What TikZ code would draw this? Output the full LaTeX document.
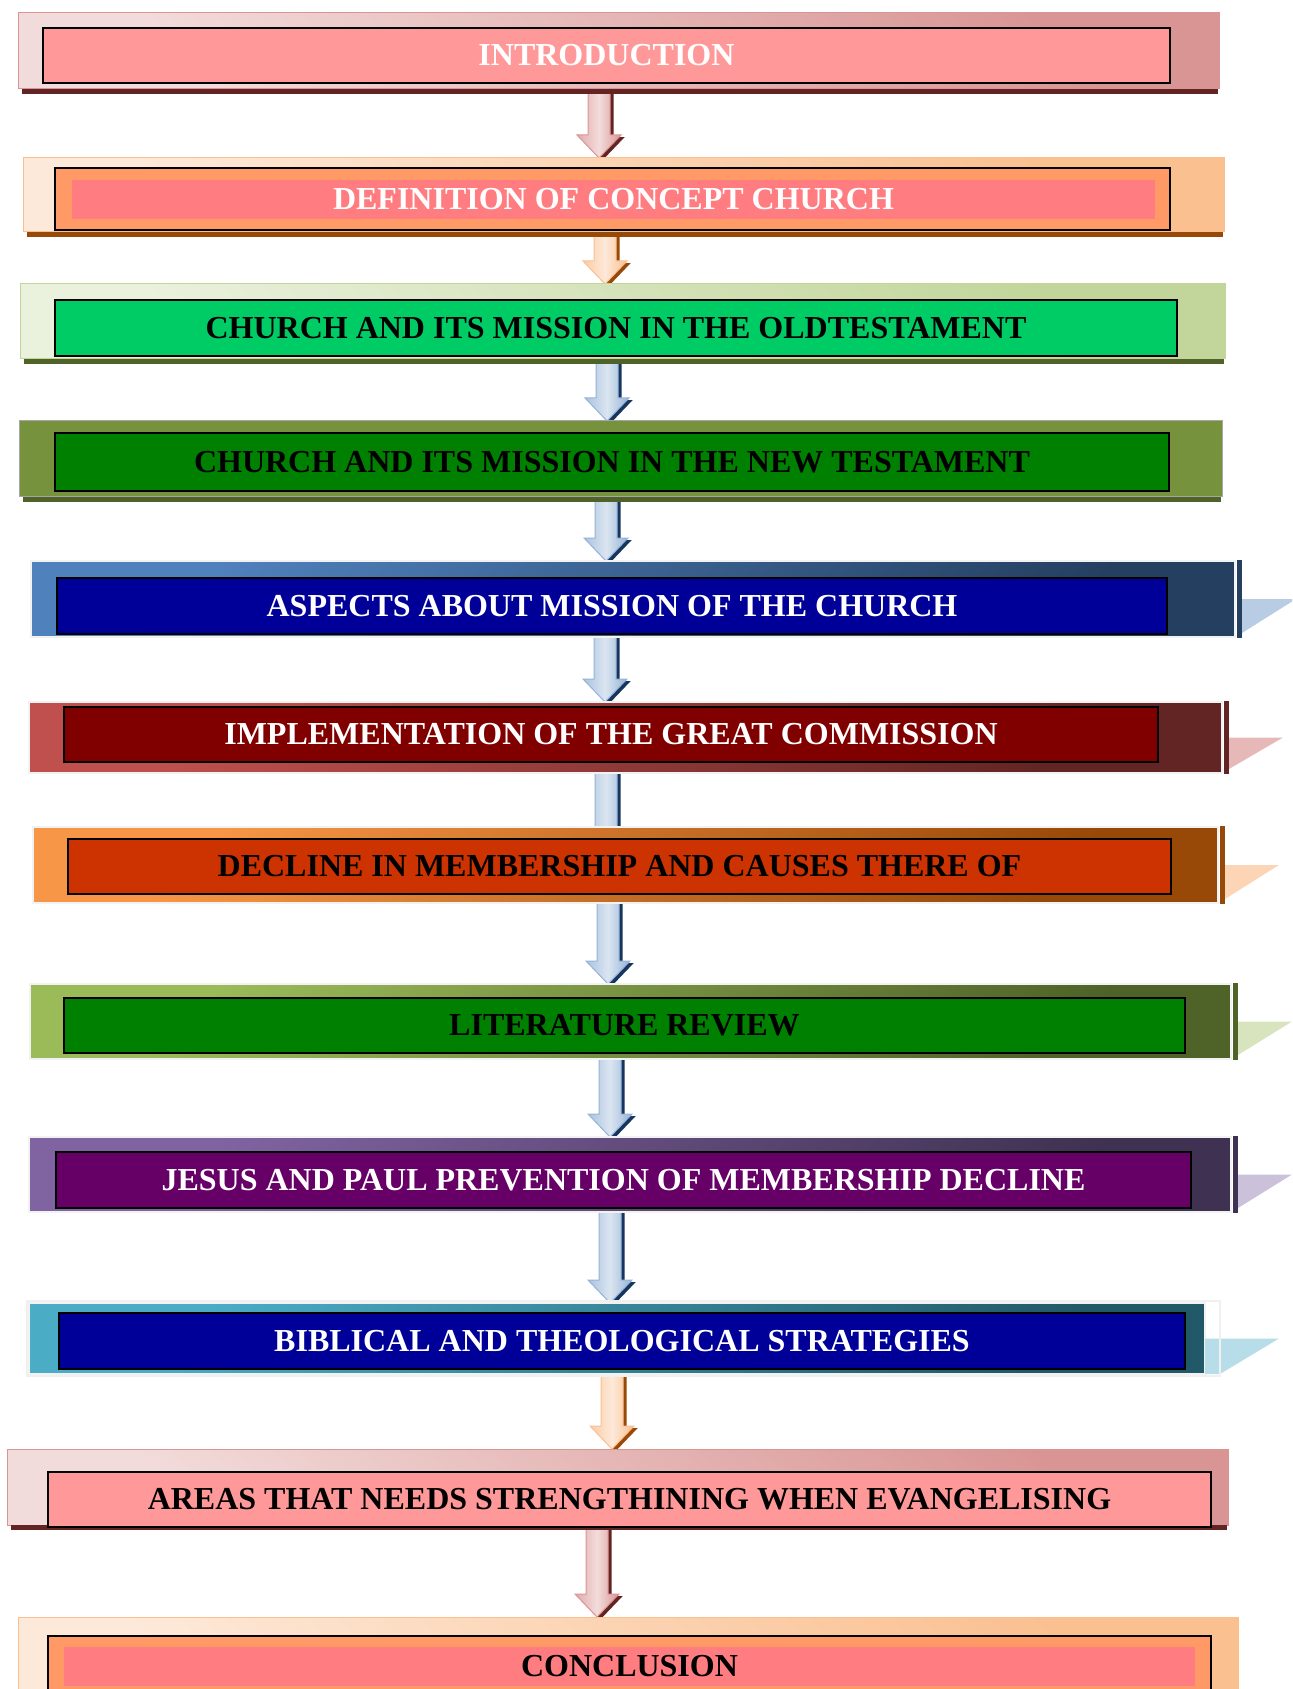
\documentclass[tikz,border=0pt]{standalone}
\usepackage{fontspec}
\setmainfont{Liberation Serif}
\usetikzlibrary{calc}
\pgfdeclarelayer{back}
\pgfsetlayers{back,main}

\definecolor{pinkdark}{HTML}{D99594}
\definecolor{pinklight}{HTML}{F2DCDB}
\definecolor{pinkfill}{HTML}{FF9999}
\definecolor{maroon}{HTML}{632423}
\definecolor{peach}{HTML}{FDE9D9}
\definecolor{apricot}{HTML}{FAC090}
\definecolor{orangefill}{HTML}{FF9966}
\definecolor{salmon}{HTML}{FF7C80}
\definecolor{brownish}{HTML}{984807}
\definecolor{mint}{HTML}{EAF1DD}
\definecolor{sage}{HTML}{C2D69B}
\definecolor{brightgreen}{HTML}{00CC66}
\definecolor{olivedark}{HTML}{4F6228}
\definecolor{olivemid}{HTML}{76923C}
\definecolor{darkgreen}{HTML}{008000}
\definecolor{blueA}{HTML}{4F81BD}
\definecolor{blueB}{HTML}{243F60}
\definecolor{navy}{HTML}{000099}
\definecolor{blueflag}{HTML}{B8CCE4}
\definecolor{redA}{HTML}{C0504D}
\definecolor{redB}{HTML}{632523}
\definecolor{darkred}{HTML}{800000}
\definecolor{redflag}{HTML}{E6B9B8}
\definecolor{orangeA}{HTML}{F79646}
\definecolor{orangeB}{HTML}{984807}
\definecolor{rust}{HTML}{CC3300}
\definecolor{orangeflag}{HTML}{FBD5B5}
\definecolor{greenA}{HTML}{9BBB59}
\definecolor{greenB}{HTML}{4F6228}
\definecolor{greenflag}{HTML}{D7E4BD}
\definecolor{purpleA}{HTML}{8064A2}
\definecolor{purpleB}{HTML}{3F3151}
\definecolor{plum}{HTML}{660066}
\definecolor{purpleflag}{HTML}{CCC1DA}
\definecolor{tealA}{HTML}{4BACC6}
\definecolor{tealB}{HTML}{215968}
\definecolor{tealflag}{HTML}{B7DDE8}
\definecolor{blueedge}{HTML}{95B3D7}
\definecolor{bluelight}{HTML}{DBE5F1}
\definecolor{blueshadow}{HTML}{17365D}

\tikzset{
  band/.style = {anchor=north west, inner sep=0pt, outer sep=0pt},
  softband/.style 2 args = {band, draw=#2, line width=0.5pt, left color=#1, right color=#2, shading angle=135},
  deepband/.style 2 args = {band, draw=gray!10, line width=1pt, left color=#1, right color=#2, shading angle=45},
  title/.style = {draw=black, line width=1pt, anchor=north west, inner sep=0pt, outer sep=0pt,
                  font=\bfseries\fontsize{16pt}{18pt}\selectfont}
}

\begin{document}
\begin{tikzpicture}[
    x=0.5pt, y=-0.5pt,
    arrowblue/.style={draw=blueedge, line width=0.5pt, left color=blueedge!80, right color=blueedge, middle color=bluelight},
    shadowblue/.style={fill=blueshadow},
    arrowpink/.style={draw=pinkdark, line width=0.5pt, left color=pinkdark!80, right color=pinkdark, middle color=pinklight},
    shadowpink/.style={fill=maroon},
    arroworange/.style={draw=apricot, line width=0.5pt, left color=apricot!80, right color=apricot, middle color=peach},
    shadoworange/.style={fill=brownish}
  ]
    \useasboundingbox (0,0) rectangle (1292,1689);
    \clip (0,0) rectangle (1292,1689);

    % outer bands
    \node[softband={pinklight}{pinkdark}, minimum width=600.5pt, minimum height=38pt] (introbox) at (18,13) {};
    \node[softband={peach}{apricot}, minimum width=600.5pt, minimum height=37pt] (defnbox) at (23,158) {};
    \node[softband={mint}{sage}, minimum width=602.5pt, minimum height=37.5pt] (oldbox) at (20,284) {};
    \node[band, fill=olivemid, draw=gray!70, line width=0.5pt, minimum width=601.5pt, minimum height=38pt] (newbox) at (19,421) {};
    \node[deepband={blueA}{blueB}, minimum width=602pt, minimum height=38pt] (aspectsbox) at (31,561) {};
    \node[deepband={redA}{redB}, minimum width=596.5pt, minimum height=35.5pt] (implbox) at (29,702) {};
    \node[deepband={orangeA}{orangeB}, minimum width=592.5pt, minimum height=38pt] (declinebox) at (33,827) {};
    \node[deepband={greenA}{greenB}, minimum width=600.5pt, minimum height=37.5pt] (litbox) at (30,984) {};
    \node[deepband={purpleA}{purpleB}, minimum width=601pt, minimum height=37.5pt] (jesusbox) at (29,1137) {};
    \node[deepband={tealA}{tealB}, minimum width=588pt, minimum height=35.5pt] (biblicalbox) at (29,1303) {};
    \node[softband={pinklight}{pinkdark}, minimum width=610.5pt, minimum height=38pt] (areasbox) at (7,1449) {};
    \node[softband={peach}{apricot}, minimum width=610pt, minimum height=45pt] (conclbox) at (18,1617) {};

    % shadow strips under the light bands
    \foreach \b/\c in {introbox/maroon, defnbox/brownish, oldbox/olivedark, newbox/olivedark, areasbox/maroon}
      \fill[\c] ([xshift=2pt]\b.south west) rectangle ([xshift=-0.5pt,yshift=-2.5pt]\b.south east);

    % bars and flags on the right
    \foreach \b/\c/\f in {aspectsbox/blueB/blueflag, implbox/redB/redflag, declinebox/orangeB/orangeflag,
                          litbox/greenB/greenflag, jesusbox/purpleB/purpleflag} {
      \fill[\f] ([xshift=3.5pt]\b.east) -- ++(27pt,0pt) -- ([xshift=3.5pt,yshift=2pt]\b.south east) -- cycle;
      \fill[\c] ([xshift=1pt,yshift=0.5pt]\b.north east) rectangle ([xshift=3.5pt,yshift=-0.5pt]\b.south east);
    }
    \fill[tealflag] (biblicalbox.east) -- ++(37pt,0pt) -- ([xshift=7.5pt]biblicalbox.south east) -- (biblicalbox.south east) -- cycle;
    \draw[gray!12, line width=1pt] ([xshift=-1pt,yshift=1pt]biblicalbox.north west) rectangle ([xshift=7.5pt,yshift=-1pt]biblicalbox.south east);

    % titles
    \node[title, fill=pinkfill, text=white, minimum width=563.5pt, minimum height=27.5pt] (intro) at (43,28) {INTRODUCTION};
    \node[title, fill=orangefill, minimum width=557.5pt, minimum height=31pt] (defnframe) at (55,168) {};
    \node[title, draw=none, fill=salmon, text=white, minimum width=541.5pt, minimum height=19.5pt] (defn) at (72,180) {DEFINITION OF CONCEPT CHURCH};
    \node[title, fill=brightgreen, minimum width=561pt, minimum height=28pt] (old) at (55,300) {CHURCH AND ITS MISSION IN THE OLDTESTAMENT};
    \node[title, fill=darkgreen, minimum width=557pt, minimum height=29pt] (new) at (55,433) {CHURCH AND ITS MISSION IN THE NEW TESTAMENT};
    \node[title, fill=navy, text=white, minimum width=555pt, minimum height=28pt] (aspects) at (57,578) {ASPECTS ABOUT MISSION OF THE CHURCH};
    \node[title, fill=darkred, text=white, minimum width=547pt, minimum height=27.5pt] (impl) at (64,707) {IMPLEMENTATION OF THE GREAT COMMISSION};
    \node[title, fill=rust, minimum width=551.5pt, minimum height=27.5pt] (decline) at (68,839) {DECLINE IN MEMBERSHIP AND CAUSES THERE OF};
    \node[title, fill=darkgreen, minimum width=560.5pt, minimum height=27.5pt] (lit) at (64,998) {LITERATURE REVIEW};
    \node[title, fill=plum, text=white, minimum width=567.5pt, minimum height=28pt] (jesus) at (56,1152) {JESUS AND PAUL PREVENTION OF MEMBERSHIP DECLINE};
    \node[title, fill=navy, text=white, minimum width=563pt, minimum height=28pt] (biblical) at (59,1313) {BIBLICAL AND THEOLOGICAL STRATEGIES};
    \node[title, fill=pinkfill, minimum width=581.5pt, minimum height=27.5pt] (areas) at (48,1472) {AREAS THAT NEEDS STRENGTHINING WHEN EVANGELISING};
    \node[title, fill=orangefill, minimum width=581.5pt, minimum height=31pt] (conclframe) at (48,1636) {};
    \node[title, draw=none, fill=salmon, minimum width=565.5pt, minimum height=19.5pt] (conclusion) at (64,1647) {CONCLUSION};

    % block arrows, behind the bands
    \begin{pgfonlayer}{back}
    \foreach \a/\b/\cx/\e/\c in {introbox/defnbox/599/0/pink, defnbox/oldbox/605/0/orange,
        oldbox/newbox/607/0/blue, newbox/aspectsbox/606/0/blue, aspectsbox/implbox/605/0/blue,
        implbox/declinebox/606/40/blue, declinebox/litbox/608/0/blue, litbox/jesusbox/610/0/blue,
        jesusbox/biblicalbox/610/0/blue, biblicalbox/areasbox/612/0/orange, areasbox/conclbox/597/0/pink}
      \foreach \s/\d in {shadow/1.8pt, arrow/0pt}
        \path[\s\c] let \p1=(\a.south), \p2=(\b.north), \p3=(\cx,\e),
                        \p4=(\x3+\d,\y2+\y3-0.6*\d) in
          (\x4-5.5pt,\y1) -- (\x4+5.5pt,\y1) -- (\x4+5.5pt,\y4+11.5pt) -- (\x4+11pt,\y4+11.5pt)
          -- (\p4) -- (\x4-11pt,\y4+11.5pt) -- (\x4-5.5pt,\y4+11.5pt) -- cycle;
    \end{pgfonlayer}

  \end{tikzpicture}
\end{document}
